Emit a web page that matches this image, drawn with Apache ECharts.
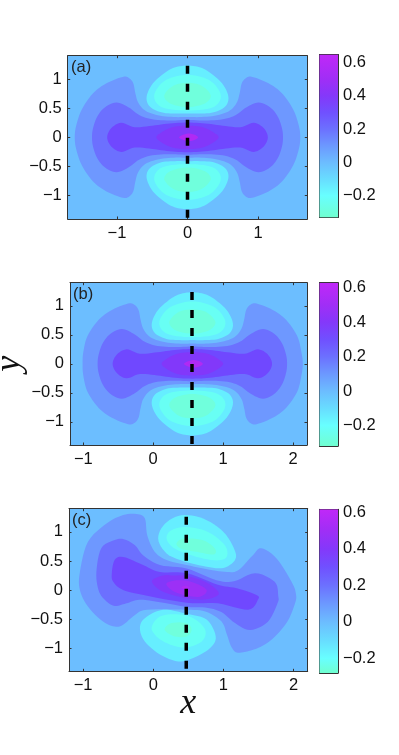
<!DOCTYPE html>
<html>
<head>
<meta charset="utf-8">
<style>html,body{margin:0;padding:0;background:#fff}#chart{width:399px;height:755px}</style>
<script src="https://cdn.jsdelivr.net/npm/echarts@6/dist/echarts.min.js"></script>
</head>
<body>
<div id="chart"></div>
<script>
// tick labels
const xTicksA = [-1, 0, 1];
const xTicksBC = [-1, 0, 1, 2];
const yTicks = [-1, -0.5, 0, 0.5, 1];
const barTicks = [-0.2, 0, 0.2, 0.4, 0.6];

// dashed cut, [x, y] ends
const cutA = [[0, 1.23], [0, -1.4]];
const cutB = [[0.555, 1.24], [0.555, -1.4]];
const cutC = [[0.47, 1.26], [0.47, -1.4]];

// colour bar stops, value then colour
const barValues = [-0.33, -0.2, -0.1, 0, 0.1, 0.2, 0.3, 0.4, 0.5, 0.65];
const barColors = ['#70ffd0', '#68ffff', '#68dcff', '#6cbcff', '#6c98ff', '#6c70ff', '#7050ff', '#8438fa', '#a02ef6', '#c028f8'];

// fill colour of each contour level
const levelFill = { '-3': '#70ffdc', '-2': '#68fff4', '-1': '#66eeff', 1: '#6e98ff', 2: '#6c70ff', 3: '#7048ff', 4: '#8238fa', 5: '#b02af4', 6: '#9c30f6' };

// contours: level, then outline in x,y
const panelA = [
  [1, [[0,.35],[.2,.35],[.42,.38],[.6,.46],[.7,.6],[.74,.76],[.77,.93],[.83,1.02],[.92,1.04],[1.15,.93],[1.34,.76],[1.5,.48],[1.58,.2],[1.6,0],[1.58,-.2],[1.5,-.48],[1.34,-.76],[1.15,-.93],[.92,-1.04],[.83,-1.02],[.77,-.93],[.74,-.76],[.7,-.6],[.6,-.46],[.42,-.38],[.2,-.35],[0,-.35],[-.2,-.35],[-.42,-.38],[-.6,-.46],[-.7,-.6],[-.74,-.76],[-.77,-.93],[-.83,-1.02],[-.92,-1.04],[-1.15,-.93],[-1.34,-.76],[-1.5,-.48],[-1.58,-.2],[-1.6,0],[-1.58,.2],[-1.5,.48],[-1.34,.76],[-1.15,.93],[-.92,1.04],[-.83,1.02],[-.77,.93],[-.74,.76],[-.7,.6],[-.6,.46],[-.42,.38],[-.2,.35]]],
  [2, [[0,.3],[.25,.29],[.5,.31],[.68,.38],[.84,.52],[1.01,.6],[1.17,.52],[1.28,.36],[1.34,.16],[1.355,0],[1.34,-.16],[1.28,-.36],[1.17,-.52],[1.01,-.6],[.84,-.52],[.68,-.38],[.5,-.31],[.25,-.29],[0,-.3],[-.25,-.29],[-.5,-.31],[-.68,-.38],[-.84,-.52],[-1.01,-.6],[-1.17,-.52],[-1.28,-.36],[-1.34,-.16],[-1.355,0],[-1.34,.16],[-1.28,.36],[-1.17,.52],[-1.01,.6],[-.84,.52],[-.68,.38],[-.5,.31],[-.25,.29]]],
  [3, [[0,.255],[.25,.24],[.5,.2],[.75,.175],[.94,.25],[1.08,.16],[1.14,0],[1.08,-.16],[.94,-.25],[.75,-.175],[.5,-.2],[.25,-.24],[0,-.255],[-.25,-.24],[-.5,-.2],[-.75,-.175],[-.94,-.25],[-1.08,-.16],[-1.14,0],[-1.08,.16],[-.94,.25],[-.75,.175],[-.5,.2],[-.25,.24]]],
  [4, [[0,.2],[.2,.18],[.35,.1],[.44,0],[.35,-.1],[.2,-.18],[0,-.2],[-.2,-.18],[-.35,-.1],[-.44,0],[-.35,.1],[-.2,.18]]],
  [5, [[.02,.065],[.1,.045],[.15,0],[.1,-.045],[.02,-.065],[-.06,-.045],[-.12,0],[-.06,.045]]],
  [-1, [[0,1.235],[.16,1.21],[.3,1.13],[.49,.93],[.58,.7],[.535,.53],[.37,.43],[.18,.41],[0,.41],[-.18,.41],[-.37,.43],[-.535,.53],[-.58,.7],[-.49,.93],[-.3,1.13],[-.16,1.21]]],
  [-2, [[0,1.077],[.3,.99],[.455,.79],[.455,.62],[.32,.5],[0,.46],[-.32,.5],[-.455,.62],[-.455,.79],[-.3,.99]]],
  [-3, [[0,.94],[.2,.89],[.33,.72],[.24,.58],[0,.52],[-.24,.58],[-.33,.72],[-.2,.89]]],
  [-1, [[0,-1.235],[.16,-1.21],[.3,-1.13],[.49,-.93],[.58,-.7],[.535,-.53],[.37,-.43],[.18,-.41],[0,-.41],[-.18,-.41],[-.37,-.43],[-.535,-.53],[-.58,-.7],[-.49,-.93],[-.3,-1.13],[-.16,-1.21]]],
  [-2, [[0,-1.077],[.3,-.99],[.455,-.79],[.455,-.62],[.32,-.5],[0,-.46],[-.32,-.5],[-.455,-.62],[-.455,-.79],[-.3,-.99]]],
  [-3, [[0,-.94],[.2,-.89],[.33,-.72],[.24,-.58],[0,-.52],[-.24,-.58],[-.33,-.72],[-.2,-.89]]]
];

const panelB = [
  [1, [[.56,.35],[.76,.35],[.98,.38],[1.16,.46],[1.26,.6],[1.3,.76],[1.33,.93],[1.39,1.02],[1.48,1.04],[1.71,.93],[1.9,.76],[2.06,.48],[2.12,.2],[2.14,0],[2.12,-.2],[2.06,-.48],[1.9,-.76],[1.71,-.93],[1.48,-1.04],[1.39,-1.02],[1.33,-.93],[1.3,-.76],[1.26,-.6],[1.16,-.46],[.98,-.38],[.76,-.35],[.56,-.35],[.36,-.35],[.14,-.38],[-.04,-.46],[-.14,-.6],[-.18,-.76],[-.21,-.93],[-.27,-1.02],[-.36,-1.04],[-.59,-.93],[-.78,-.76],[-.94,-.48],[-1,-.2],[-1.01,0],[-1,.2],[-.94,.48],[-.78,.76],[-.59,.93],[-.36,1.04],[-.27,1.02],[-.21,.93],[-.18,.76],[-.14,.6],[-.04,.46],[.14,.38],[.36,.35]]],
  [2, [[.56,.3],[.81,.29],[1.06,.31],[1.24,.38],[1.4,.52],[1.57,.6],[1.73,.52],[1.84,.36],[1.9,.16],[1.915,0],[1.9,-.16],[1.84,-.36],[1.73,-.52],[1.57,-.6],[1.4,-.52],[1.24,-.38],[1.06,-.31],[.81,-.29],[.56,-.3],[.31,-.29],[.06,-.31],[-.12,-.38],[-.28,-.52],[-.45,-.6],[-.61,-.52],[-.72,-.36],[-.78,-.16],[-.795,0],[-.78,.16],[-.72,.36],[-.61,.52],[-.45,.6],[-.28,.52],[-.12,.38],[.06,.31],[.31,.29]]],
  [3, [[.56,.255],[.81,.24],[1.06,.2],[1.31,.175],[1.5,.25],[1.64,.16],[1.7,0],[1.64,-.16],[1.5,-.25],[1.31,-.175],[1.06,-.2],[.81,-.24],[.56,-.255],[.31,-.24],[.06,-.2],[-.19,-.175],[-.38,-.25],[-.52,-.16],[-.58,0],[-.52,.16],[-.38,.25],[-.19,.175],[.06,.2],[.31,.24]]],
  [4, [[.56,.2],[.76,.18],[.91,.1],[1,0],[.91,-.1],[.76,-.18],[.56,-.2],[.36,-.18],[.21,-.1],[.12,0],[.21,.1],[.36,.18]]],
  [5, [[.58,.065],[.66,.045],[.71,0],[.66,-.045],[.58,-.065],[.5,-.045],[.44,0],[.5,.045]]],
  [-1, [[.56,1.235],[.72,1.21],[.86,1.13],[1.05,.93],[1.14,.7],[1.095,.53],[.93,.43],[.74,.41],[.56,.41],[.38,.41],[.19,.43],[.025,.53],[-.02,.7],[.07,.93],[.26,1.13],[.4,1.21]]],
  [-2, [[.56,1.077],[.86,.99],[1.015,.79],[1.015,.62],[.88,.5],[.56,.46],[.24,.5],[.105,.62],[.105,.79],[.26,.99]]],
  [-3, [[.56,.94],[.76,.89],[.89,.72],[.8,.58],[.56,.52],[.32,.58],[.23,.72],[.36,.89]]],
  [-1, [[.56,-1.235],[.72,-1.21],[.86,-1.13],[1.05,-.93],[1.14,-.7],[1.095,-.53],[.93,-.43],[.74,-.41],[.56,-.41],[.38,-.41],[.19,-.43],[.025,-.53],[-.02,-.7],[.07,-.93],[.26,-1.13],[.4,-1.21]]],
  [-2, [[.56,-1.077],[.86,-.99],[1.015,-.79],[1.015,-.62],[.88,-.5],[.56,-.46],[.24,-.5],[.105,-.62],[.105,-.79],[.26,-.99]]],
  [-3, [[.56,-.94],[.76,-.89],[.89,-.72],[.8,-.58],[.56,-.52],[.32,-.58],[.23,-.72],[.36,-.89]]]
];

const panelC = [
  [1, [[-.24,1.31],[-.12,1.235],[-.085,.94],[.02,.66],[.19,.515],[.475,.43],[.8,.35],[1.05,.31],[1.21,.34],[1.42,.6],[1.54,.72],[1.76,.54],[1.97,.14],[2.03,-.05],[2.02,-.23],[1.88,-.6],[1.59,-.94],[1.235,-1.08],[1.12,-.995],[1.05,-.77],[.97,-.54],[.74,-.37],[.475,-.34],[-.09,-.34],[-.26,-.43],[-.43,-.6],[-.55,-.63],[-.72,-.54],[-.93,-.285],[-1.045,0],[-1.045,.31],[-.93,.83],[-.66,1.15],[-.43,1.29]]],
  [2, [[-.42,.875],[-.26,.77],[-.145,.6],[.095,.43],[.475,.37],[.9,.17],[1.15,.15],[1.45,.29],[1.73,.14],[1.78,-.1],[1.77,-.23],[1.63,-.55],[1.38,-.69],[1.165,-.57],[.97,-.38],[.74,-.3],[.475,-.29],[-.14,-.17],[-.38,-.23],[-.55,-.275],[-.69,-.17],[-.78,0],[-.81,.31],[-.74,.72],[-.55,.86]]],
  [3, [[-.43,.57],[-.145,.43],[.095,.31],[.475,.29],[.92,.09],[1.19,.03],[1.47,-.085],[1.49,-.17],[1.35,-.34],[.92,-.23],[.475,-.22],[-.14,-.086],[-.43,0],[-.57,.14],[-.59,.29],[-.55,.515]]],
  [4, [[-.02,.15],[.14,.25],[.28,.25],[.475,.24],[.76,.13],[.935,-.057],[.76,-.16],[.475,-.14],[.14,-.03]]],
  [6, [[.19,.115],[.355,.17],[.57,.13],[.76,0],[.665,-.115],[.43,-.085],[.26,0]]],
  [5, [[.46,.075],[.52,.045],[.46,.015],[.4,.045]]],
  [-1, [[.4,1.286],[.71,1.23],[1,1],[1.16,.685],[1.16,.51],[1,.38],[.76,.4],[.43,.497],[.19,.63],[.07,.885],[.166,1.14]]],
  [-2, [[.475,1.085],[.78,1],[1.02,.77],[1.045,.57],[.9,.51],[.62,.57],[.31,.71],[.19,.885],[.26,1.03]]],
  [-3, [[.43,.885],[.71,.857],[.88,.71],[.855,.61],[.62,.657],[.4,.71],[.33,.8]]],
  [-1, [[-.19,-.66],[-.12,-.485],[.14,-.34],[.475,-.41],[.76,-.51],[.89,-.8],[.81,-1],[.57,-1.17],[.355,-1.23],[.095,-1.11],[-.12,-.885]]],
  [-2, [[-.02,-.63],[.095,-.457],[.33,-.417],[.57,-.486],[.74,-.686],[.69,-.886],[.45,-.99],[.19,-.914],[.024,-.77]]],
  [-3, [[.166,-.657],[.26,-.57],[.475,-.57],[.546,-.686],[.475,-.8],[.31,-.8],[.19,-.726]]]
];

const textFont = '"Liberation Sans", Arial, sans-serif';
const mathFont = '"Liberation Serif", serif';
const frameColor = '#333';

const chart = echarts.init(document.getElementById('chart'));

const panels = [
  { tag: '(a)', contours: panelA, cut: cutA, xTicks: xTicksA, xRange: [-1.7, 1.7], yRange: [-1.405, 1.405], box: [67.7, 55.7, 239.6, 163.3], bar: [-0.332, 0.648], barBox: [319.5, 54.5, 18.5, 163], labelAt: [71, 59] },
  { tag: '(b)', contours: panelB, cut: cutB, xTicks: xTicksBC, xRange: [-1.19, 2.2], yRange: [-1.4, 1.4], box: [70, 282.7, 237, 162.3], bar: [-0.32, 0.63], barBox: [319.5, 282.7, 18.5, 163.3], labelAt: [73, 286] },
  { tag: '(c)', contours: panelC, cut: cutC, xTicks: xTicksBC, xRange: [-1.2, 2.2], yRange: [-1.4, 1.4], box: [69, 508.7, 238.7, 162.6], bar: [-0.28, 0.615], barBox: [319.5, 509.3, 18.5, 163.7], labelAt: [72, 512] }
];

const minusLabel = function (v) {
  return String(v).replace('-', '\u2212');
};

// closed curve through the read points, in pixels
function closedCurve(pts) {
  const out = [];
  const n = pts.length;
  for (let i = 0; i < n; i++) {
    const p0 = pts[(i + n - 1) % n], p1 = pts[i], p2 = pts[(i + 1) % n], p3 = pts[(i + 2) % n];
    for (let s = 0; s < 6; s++) {
      const t = s / 6, t2 = t * t, t3 = t2 * t;
      out.push([
        0.5 * (2 * p1[0] + (p2[0] - p0[0]) * t + (2 * p0[0] - 5 * p1[0] + 4 * p2[0] - p3[0]) * t2 + (3 * p1[0] - p0[0] - 3 * p2[0] + p3[0]) * t3),
        0.5 * (2 * p1[1] + (p2[1] - p0[1]) * t + (2 * p0[1] - 5 * p1[1] + 4 * p2[1] - p3[1]) * t2 + (3 * p1[1] - p0[1] - 3 * p2[1] + p3[1]) * t3)
      ]);
    }
  }
  return out;
}

function frameAxis(extra) {
  return Object.assign({
    type: 'value',
    splitLine: { show: false },
    axisLine: { show: true, onZero: false, lineStyle: { color: frameColor, width: 1 } },
    axisTick: { show: true, inside: true, length: 2.5, lineStyle: { color: frameColor, width: 1 } },
    axisLabel: { show: false }
  }, extra);
}

const grids = [];
const xAxes = [];
const yAxes = [];
const series = [];
const titles = [];

panels.forEach(function (p, n) {
  const labelStyle = { show: true, color: '#111', fontFamily: textFont, fontSize: 16.5, margin: 6, formatter: minusLabel };
  const mainGrid = grids.length;
  grids.push({ left: p.box[0], top: p.box[1], width: p.box[2], height: p.box[3], outerBoundsMode: 'none', show: true, backgroundColor: '#6cbeff', borderWidth: 0 });
  const xBase = { min: p.xRange[0], max: p.xRange[1], gridIndex: mainGrid };
  const yBase = { min: p.yRange[0], max: p.yRange[1], gridIndex: mainGrid };
  const xTickOpt = { show: true, inside: true, length: 2.5, customValues: p.xTicks, lineStyle: { color: frameColor, width: 1 } };
  const yTickOpt = { show: true, inside: true, length: 2.5, customValues: yTicks, lineStyle: { color: frameColor, width: 1 } };
  const xMain = xAxes.length;
  const xBottom = frameAxis(Object.assign({}, xBase, { position: 'bottom', axisTick: xTickOpt, axisLabel: Object.assign({ customValues: p.xTicks }, labelStyle) }));
  if (n === 2) {
    xBottom.name = 'x';
    xBottom.nameLocation = 'middle';
    xBottom.nameGap = 14;
    xBottom.nameMoveOverlap = false;
    xBottom.nameTextStyle = { fontFamily: mathFont, fontStyle: 'italic', fontSize: 36, color: '#111' };
  }
  xAxes.push(xBottom);
  xAxes.push(frameAxis(Object.assign({}, xBase, { position: 'top', axisTick: xTickOpt })));
  const yMain = yAxes.length;
  const yLeft = frameAxis(Object.assign({}, yBase, { position: 'left', axisTick: yTickOpt, axisLabel: Object.assign({ customValues: yTicks }, labelStyle) }));
  if (n === 1) {
    yLeft.name = 'y';
    yLeft.nameLocation = 'middle';
    yLeft.nameGap = 42;
    yLeft.nameRotate = 90;
    yLeft.nameMoveOverlap = false;
    yLeft.nameTextStyle = { fontFamily: mathFont, fontStyle: 'italic', fontSize: 36, color: '#111' };
  }
  yAxes.push(yLeft);
  yAxes.push(frameAxis(Object.assign({}, yBase, { position: 'right', axisTick: yTickOpt })));

  series.push({
    type: 'custom',
    xAxisIndex: xMain,
    yAxisIndex: yMain,
    coordinateSystem: 'cartesian2d',
    clip: true,
    silent: true,
    data: p.contours.map(function (c, i) { return [i]; }),
    encode: { x: -1, y: -1 },
    renderItem: function (params, api) {
      const c = p.contours[params.dataIndex];
      return {
        type: 'polygon',
        shape: { points: closedCurve(c[1].map(function (pt) { return api.coord(pt); })) },
        style: { fill: levelFill[c[0]] }
      };
    }
  });
  series.push({
    type: 'line',
    xAxisIndex: xMain,
    yAxisIndex: yMain,
    data: p.cut,
    symbol: 'none',
    silent: true,
    z: 5,
    lineStyle: { color: '#000', width: 3.5, type: [8, 10] }
  });

  // colour bar
  const barGrid = grids.length;
  grids.push({ left: p.barBox[0], top: p.barBox[1], width: p.barBox[2], height: p.barBox[3], outerBoundsMode: 'none' });
  const xBar = xAxes.length;
  xAxes.push(frameAxis({ gridIndex: barGrid, min: 0, max: 1, position: 'bottom', axisTick: { show: false } }));
  xAxes.push(frameAxis({ gridIndex: barGrid, min: 0, max: 1, position: 'top', axisTick: { show: false } }));
  const yBar = yAxes.length;
  const barTickOpt = { show: true, inside: true, length: 2, customValues: barTicks, lineStyle: { color: frameColor, width: 1 } };
  yAxes.push(frameAxis({ gridIndex: barGrid, min: p.bar[0], max: p.bar[1], position: 'left', axisTick: barTickOpt }));
  yAxes.push(frameAxis({ gridIndex: barGrid, min: p.bar[0], max: p.bar[1], position: 'right', axisTick: barTickOpt, axisLabel: Object.assign({ customValues: barTicks }, labelStyle, { margin: 5 }) }));
  series.push({
    type: 'custom',
    xAxisIndex: xBar,
    yAxisIndex: yBar,
    coordinateSystem: 'cartesian2d',
    clip: true,
    silent: true,
    data: [[0]],
    encode: { x: -1, y: -1 },
    renderItem: function (params, api) {
      const a = api.coord([0, p.bar[1]]);
      const b = api.coord([1, p.bar[0]]);
      const span = p.bar[1] - p.bar[0];
      const stops = barValues.map(function (v, i) {
        return { offset: Math.min(1, Math.max(0, (p.bar[1] - v) / span)), color: barColors[i] };
      }).reverse();
      return {
        type: 'rect',
        shape: { x: a[0], y: a[1], width: b[0] - a[0], height: b[1] - a[1] },
        style: { fill: new echarts.graphic.LinearGradient(0, 0, 0, 1, stops) }
      };
    }
  });

  titles.push({ text: p.tag, left: p.labelAt[0], top: p.labelAt[1], padding: 0, textStyle: { fontFamily: textFont, fontSize: 16.5, fontWeight: 'normal', color: '#222' } });
});

chart.setOption({
  animation: false,
  backgroundColor: '#fff',
  title: titles,
  grid: grids,
  xAxis: xAxes,
  yAxis: yAxes,
  series: series
});
</script>
</body>
</html>
